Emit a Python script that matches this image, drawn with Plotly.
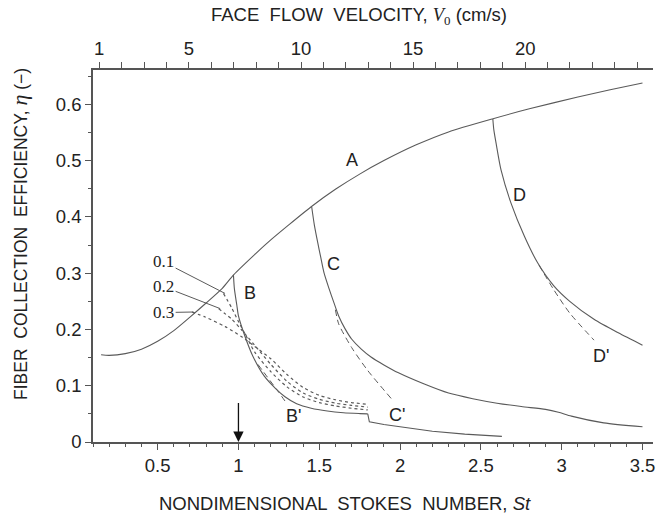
import plotly.graph_objects as go

# ---- data: fiber collection efficiency vs Stokes number ----
# St per unit face velocity (cm/s), used for the top axis
ST_PER_V = 0.1387

st_A = [0.15, 0.2, 0.3, 0.4, 0.5, 0.6, 0.7, 0.8, 0.9, 0.97, 1.1, 1.2, 1.3, 1.45,
        1.6, 1.75, 1.9, 2.1, 2.3, 2.57, 2.8, 3.1, 3.3, 3.5]
eta_A = [0.155, 0.154, 0.157, 0.165, 0.179, 0.198, 0.222, 0.247, 0.273, 0.297, 0.333,
         0.359, 0.383, 0.418, 0.449, 0.476, 0.500, 0.528, 0.551, 0.574, 0.592, 0.613,
         0.626, 0.638]

st_B_upper = [0.969, 0.975, 0.99, 1.0, 1.04, 1.09, 1.16, 1.23, 1.29, 1.36, 1.45, 1.55,
              1.65, 1.75, 1.80]
eta_B_upper = [0.297, 0.272, 0.243, 0.224, 0.188, 0.152, 0.117, 0.095, 0.080, 0.068,
               0.060, 0.055, 0.052, 0.0505, 0.050]
st_B_lower = [1.80, 1.81, 1.9, 2.0, 2.2, 2.4, 2.63]
eta_B_lower = [0.050, 0.036, 0.031, 0.027, 0.019, 0.014, 0.010]
st_Bp = [1.12, 1.18, 1.24, 1.30]
eta_Bp = [0.138, 0.115, 0.092, 0.068]

st_C = [1.453, 1.47, 1.49, 1.51, 1.53, 1.56, 1.59, 1.62, 1.66, 1.70, 1.76, 1.82, 1.9,
        1.99, 2.15, 2.3, 2.45, 2.6, 2.75, 2.9, 2.98, 3.06, 3.26, 3.5]
eta_C = [0.418, 0.385, 0.355, 0.327, 0.300, 0.273, 0.248, 0.224, 0.201, 0.183, 0.165,
         0.151, 0.137, 0.123, 0.103, 0.087, 0.077, 0.069, 0.063, 0.058, 0.053, 0.046,
         0.034, 0.027]
st_Cp = [1.60, 1.62, 1.70, 1.80, 1.946]
eta_Cp = [0.235, 0.21, 0.168, 0.127, 0.077]

st_D = [2.574, 2.58, 2.594, 2.625, 2.687, 2.77, 2.852, 2.95, 3.05, 3.2, 3.35, 3.5]
eta_D = [0.574, 0.555, 0.531, 0.483, 0.424, 0.365, 0.318, 0.278, 0.250, 0.218, 0.194, 0.172]
st_Dp = [2.86, 2.95, 3.05, 3.2]
eta_Dp = [0.314, 0.271, 0.229, 0.181]

# dotted curves for three parameter values
st_01 = [0.907, 0.959, 1.0, 1.041, 1.10, 1.2, 1.3, 1.4, 1.5, 1.6, 1.7, 1.8]
eta_01 = [0.264, 0.238, 0.214, 0.192, 0.160, 0.125, 0.098, 0.080, 0.070, 0.064, 0.060, 0.057]
st_02 = [0.877, 0.959, 1.020, 1.10, 1.2, 1.3, 1.4, 1.5, 1.6, 1.7, 1.8]
eta_02 = [0.237, 0.218, 0.199, 0.172, 0.138, 0.108, 0.087, 0.076, 0.069, 0.065, 0.062]
st_03 = [0.712, 0.794, 0.918, 1.020, 1.10, 1.2, 1.3, 1.4, 1.5, 1.6, 1.7, 1.8]
eta_03 = [0.231, 0.222, 0.205, 0.187, 0.170, 0.148, 0.120, 0.097, 0.083, 0.075, 0.070, 0.067]

st_ticks = [0.5, 1, 1.5, 2, 2.5, 3, 3.5]
st_ticktext = ["0.5", "1", "1.5", "2", "2.5", "3", "3.5"]
eta_ticks = [0, 0.1, 0.2, 0.3, 0.4, 0.5, 0.6]
eta_ticktext = ["0", "0.1", "0.2", "0.3", "0.4", "0.5", "0.6"]
v_ticks = [1, 5, 10, 15, 20]
v_ticktext = ["1", "5", "10", "15", "20"]

X_RANGE = [0.1, 3.565]
Y_RANGE = [0, 0.661]

# ---- styling ----
SANS = "Liberation Sans, Arial, sans-serif"
SERIF = "Liberation Serif, Times New Roman, serif"
LINE = "#5a5a5a"
AXIS = "#555555"
TEXT = "#222222"

fig = go.Figure()


def curve(x, y, dash="solid", width=1.1, shape="spline"):
    fig.add_trace(go.Scatter(
        x=x, y=y, mode="lines",
        line=dict(color=LINE, width=width, dash=dash, shape=shape, smoothing=0.7),
        hoverinfo="skip", showlegend=False))


curve(st_A, eta_A)
curve(st_B_upper, eta_B_upper)
curve(st_B_lower, eta_B_lower, shape="linear")
curve(st_C, eta_C)
curve(st_D, eta_D)
curve(st_Bp, eta_Bp, dash="6px,4px", width=1)
curve(st_Cp, eta_Cp, dash="6px,4px", width=1)
curve(st_Dp, eta_Dp, dash="6px,4px", width=1)
for xs, ys in ((st_01, eta_01), (st_02, eta_02), (st_03, eta_03)):
    curve(xs, ys, dash="dot", width=1.2)

# carrier for the face-velocity axis on top
fig.add_trace(go.Scatter(
    x=[X_RANGE[0] / ST_PER_V, X_RANGE[1] / ST_PER_V], y=[0, 0], xaxis="x2",
    mode="markers", marker=dict(opacity=0), hoverinfo="skip", showlegend=False))

annotations = []


def label(x, y, text, size=18, family=SANS):
    annotations.append(dict(x=x, y=y, xref="x", yref="y", text=text, showarrow=False,
                            xanchor="center", yanchor="middle",
                            font=dict(family=family, size=size, color=TEXT)))


label(1.70, 0.501, "A")
label(1.072, 0.264, "B")
label(1.586, 0.317, "C")
label(2.739, 0.439, "D")
label(1.34, 0.046, "B'")
label(1.98, 0.048, "C'")
label(3.245, 0.152, "D'")

# parameter labels with leader lines to the start of each dotted curve
for txt, ly, xs, ys in (("0.1", 0.32, st_01, eta_01),
                        ("0.2", 0.276, st_02, eta_02),
                        ("0.3", 0.230, st_03, eta_03)):
    annotations.append(dict(
        x=xs[0] + 0.01, y=ys[0], xref="x", yref="y", ax=0.537, ay=ly,
        axref="x", ayref="y", text=txt, showarrow=True, arrowhead=0,
        arrowwidth=1, arrowcolor=LINE, standoff=0,
        font=dict(family=SERIF, size=17, color=TEXT)))

# arrow marking St = 1
annotations.append(dict(
    x=1.0, y=0, xref="x", yref="y", ax=1.0, ay=0.072, axref="x", ayref="y",
    text="", showarrow=True, arrowhead=2, arrowsize=1.6, arrowwidth=1.3,
    arrowcolor="#111111", standoff=0))

# axis titles
annotations.append(dict(
    x=0.45, y=-0.164, xref="paper", yref="paper", showarrow=False,
    xanchor="center", yanchor="middle",
    text="NONDIMENSIONAL  STOKES  NUMBER, <i>St</i>",
    font=dict(family=SANS, size=18.5, color=TEXT)))
annotations.append(dict(
    x=0.475, y=1.145, xref="paper", yref="paper", showarrow=False,
    xanchor="center", yanchor="middle",
    text=("FACE  FLOW  VELOCITY, <span style='font-family:Liberation Serif'>"
          "<i>V</i><sub>0</sub></span> (cm/s)"),
    font=dict(family=SANS, size=18.5, color=TEXT)))
annotations.append(dict(
    x=-0.1317, y=0.56, xref="paper", yref="paper", showarrow=False, textangle=-90,
    xanchor="center", yanchor="middle",
    text=("FIBER  COLLECTION  EFFICIENCY, <span style='font-family:Liberation Serif;"
          "font-size:22px'><i>η</i></span> (−)"),
    font=dict(family=SANS, size=17.5, color=TEXT)))

tickfont = dict(family=SANS, size=18.5, color=TEXT)

fig.update_layout(
    width=661, height=517,
    margin=dict(l=93, r=6, t=70, b=75),
    paper_bgcolor="white", plot_bgcolor="white",
    showlegend=False,
    annotations=annotations,
    xaxis=dict(
        range=X_RANGE, tickmode="array", tickvals=st_ticks, ticktext=st_ticktext,
        ticks="outside", ticklen=6, tickwidth=1, tickcolor=AXIS,
        showline=True, linecolor=AXIS, linewidth=1.5, showgrid=False, zeroline=False,
        tickfont=tickfont,
        minor=dict(tickmode="linear", tick0=0, dtick=0.1, ticks="outside",
                   ticklen=3, tickwidth=1, tickcolor=AXIS, showgrid=False)),
    xaxis2=dict(
        overlaying="x", side="top", anchor="y",
        range=[X_RANGE[0] / ST_PER_V, X_RANGE[1] / ST_PER_V],
        tickmode="array", tickvals=v_ticks, ticktext=v_ticktext,
        ticks="outside", ticklen=6, tickwidth=1, tickcolor=AXIS,
        showline=True, linecolor=AXIS, linewidth=1.5, showgrid=False, zeroline=False,
        tickfont=tickfont,
        minor=dict(tickmode="linear", tick0=0, dtick=1, ticks="outside",
                   ticklen=6, tickwidth=1, tickcolor=AXIS, showgrid=False)),
    yaxis=dict(
        range=Y_RANGE, tickmode="array", tickvals=eta_ticks, ticktext=eta_ticktext,
        ticks="outside", ticklen=6, tickwidth=1, tickcolor=AXIS,
        showline=True, linecolor=AXIS, linewidth=1.5, showgrid=False, zeroline=False,
        tickfont=tickfont,
        minor=dict(tickmode="linear", tick0=0, dtick=0.05, ticks="outside",
                   ticklen=3, tickwidth=1, tickcolor=AXIS, showgrid=False)),
)

fig.write_html("out.html")
